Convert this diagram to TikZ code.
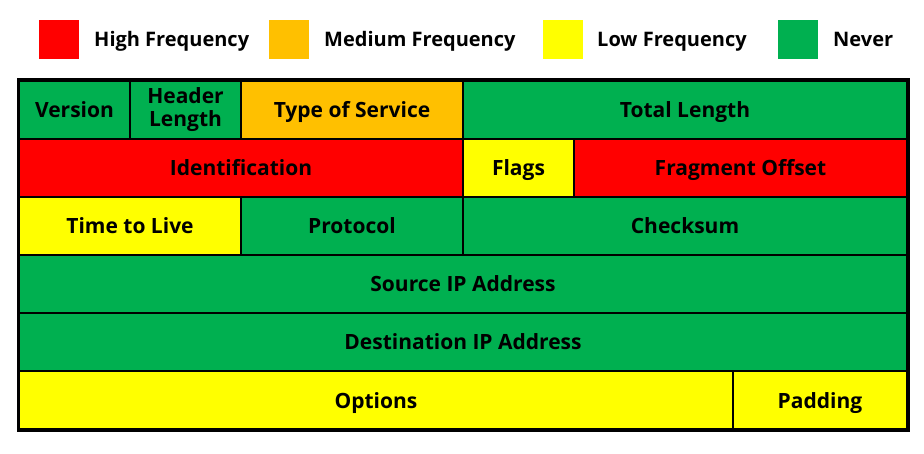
\documentclass[tikz,border=0pt]{standalone}
\usepackage{fontspec}
\setmainfont{Open Sans}
\definecolor{highfreq}{HTML}{FF0000}
\definecolor{medfreq}{HTML}{FFC000}
\definecolor{lowfreq}{HTML}{FFFF00}
\definecolor{neverused}{HTML}{00B050}
\tikzset{
    field/.style = {rectangle, anchor=north west, draw=black, line width=2pt, inner sep=0pt, minimum height=58pt, align=center, text height=18pt, text depth=2pt, font=\bfseries\fontsize{21}{23}\selectfont},
    swatch/.style = {rectangle, anchor=north west, minimum width=40pt, minimum height=39pt, inner sep=0pt},
    keylabel/.style = {anchor=base west, inner sep=0pt, font=\bfseries\fontsize{20}{22}\selectfont}
}
\begin{document}
\begin{tikzpicture}[x=1pt, y=-1pt]
\useasboundingbox (0,0) rectangle (924,454);
% legend
\node (highkey) [swatch, fill=highfreq] at (39,20) {};
\node (medkey) [swatch, fill=medfreq] at (269,20) {};
\node (lowkey) [swatch, fill=lowfreq] at (543,20) {};
\node (neverkey) [swatch, fill=neverused] at (778,20) {};
\node (hightext) [keylabel] at (94,47) {High Frequency};
\node (medtext) [keylabel] at (324,47) {Medium Frequency};
\node (lowtext) [keylabel] at (597,47) {Low Frequency};
\node (nevertext) [keylabel] at (833,47) {Never};

% header rows
\node (version) [field, fill=neverused, minimum width=111pt] at (18,80) {Version};
\node (hlen) [field, fill=neverused, minimum width=111pt, text height=, text depth=] at (129,80) {Header\\Length};
\node (tos) [field, fill=medfreq, minimum width=222pt] at (240,80) {Type of Service};
\node (totlen) [field, fill=neverused, minimum width=444pt] at (462,80) {Total Length};
\node (ident) [field, fill=highfreq, minimum width=444pt] at (18,138) {Identification};
\node (flags) [field, fill=lowfreq, minimum width=111pt] at (462,138) {Flags};
\node (fragoff) [field, fill=highfreq, minimum width=333pt] at (573,138) {Fragment Offset};
\node (ttl) [field, fill=lowfreq, minimum width=222pt] at (18,196) {Time to Live};
\node (proto) [field, fill=neverused, minimum width=222pt] at (240,196) {Protocol};
\node (checksum) [field, fill=neverused, minimum width=444pt] at (462,196) {Checksum};
\node (srcip) [field, fill=neverused, minimum width=888pt] at (18,254) {Source IP Address};
\node (dstip) [field, fill=neverused, minimum width=888pt] at (18,312) {Destination IP Address};
\node (options) [field, fill=lowfreq, minimum width=714pt] at (18,370) {Options};
\node (padding) [field, fill=lowfreq, minimum width=174pt] at (732,370) {Padding};

% outer frame
\draw [line width=3pt] (version.north west) rectangle (padding.south east);
\end{tikzpicture}
\end{document}
